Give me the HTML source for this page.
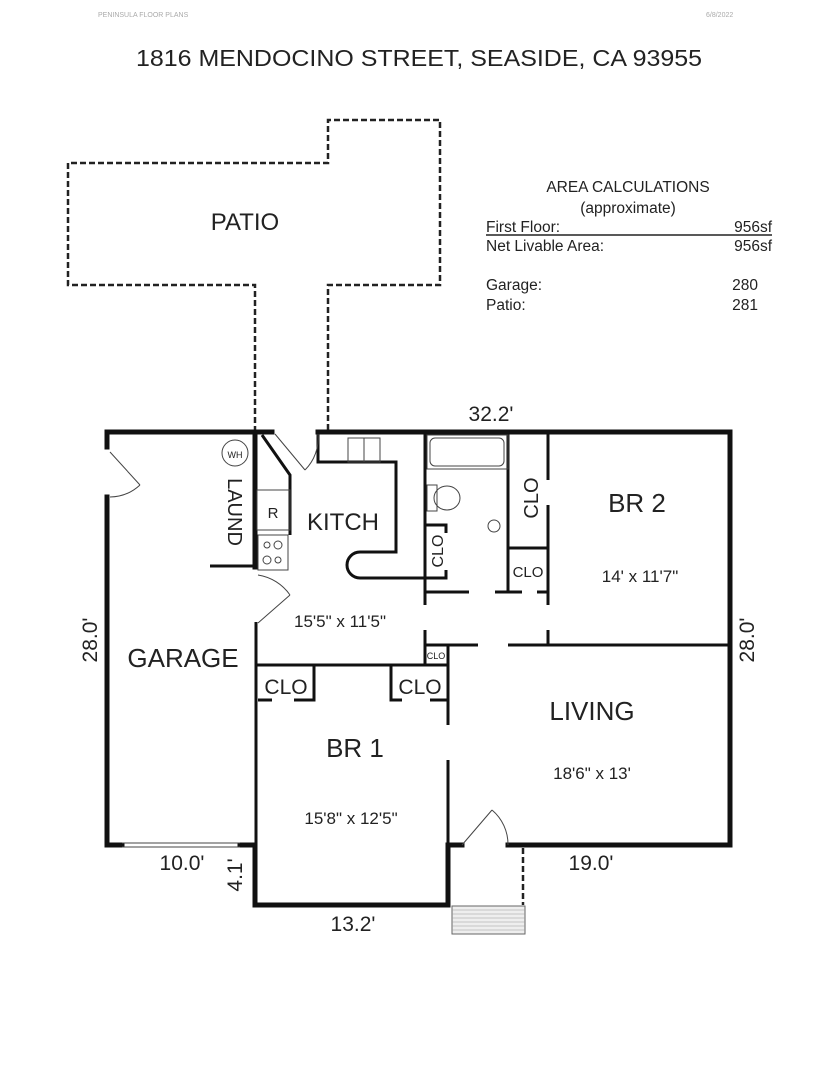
<!DOCTYPE html>
<html><head><meta charset="utf-8"><style>
html,body{margin:0;padding:0;background:#fff;}
svg{display:block;}
text{font-family:"Liberation Sans",Arial,sans-serif;fill:#222;}
</style></head><body>
<svg width="835" height="1080" viewBox="0 0 835 1080" xmlns="http://www.w3.org/2000/svg">
<text x="98" y="17" font-size="7" style="fill:#aaa">PENINSULA FLOOR PLANS</text>
<text x="706" y="17" font-size="7" style="fill:#aaa">6/8/2022</text>
<text x="136" y="66" font-size="23" textLength="566" lengthAdjust="spacingAndGlyphs">1816 MENDOCINO STREET, SEASIDE, CA  93955</text>

<!-- area calcs -->
<text x="628" y="192" font-size="15.5" text-anchor="middle">AREA CALCULATIONS</text>
<text x="628" y="213" font-size="15.5" text-anchor="middle">(approximate)</text>
<g font-size="15.5">
<text x="486" y="232">First  Floor:</text><text x="772" y="232" text-anchor="end">956sf</text>
<text x="486" y="251">Net Livable Area:</text><text x="772" y="251" text-anchor="end">956sf</text>
<text x="486" y="290">Garage:</text><text x="758" y="290" text-anchor="end">280</text>
<text x="486" y="310">Patio:</text><text x="758" y="310" text-anchor="end">281</text>
</g>
<line x1="486" y1="235" x2="772" y2="235" stroke="#222" stroke-width="1.5"/>

<!-- patio dashed -->
<g fill="none" stroke="#222" stroke-width="2.5" stroke-dasharray="6,3">
<path d="M255,432 V285 H68 V163 H328 V120 H440 V285 H328 V432"/>
<line x1="523" y1="848" x2="523" y2="905"/>
</g>
<text x="245" y="230" font-size="24" text-anchor="middle">PATIO</text>

<!-- thick walls -->
<g fill="none" stroke="#111" stroke-width="5" stroke-linecap="square">
<path d="M107,447 V432 H272"/>
<path d="M318,432 H730 V845 H508"/>
<path d="M107,497 V845 H122"/>
<path d="M240,845 H255 V905 H448 V845 H462"/>
<line x1="255" y1="432" x2="255" y2="567"/>
</g>
<!-- interior walls -->
<g fill="none" stroke="#111" stroke-width="3">
<line x1="210" y1="566" x2="255" y2="566"/>
<line x1="256" y1="622" x2="256" y2="845"/>
<line x1="255" y1="665" x2="448" y2="665"/>
<path d="M318,432 V462 H396 V552 H360 A13,13 0 0 0 360,578 H425"/>
<path d="M262,435 L290,475 V535"/>
<line x1="425" y1="432" x2="425" y2="605"/>
<line x1="425" y1="630" x2="425" y2="665"/>
<path d="M425,525 H446 V533 M446,570 V578 H425"/>
<line x1="508" y1="432" x2="508" y2="592"/>
<line x1="508" y1="548" x2="548" y2="548"/>
<line x1="548" y1="432" x2="548" y2="480"/>
<line x1="548" y1="505" x2="548" y2="605"/>
<line x1="548" y1="630" x2="548" y2="645"/>
<line x1="425" y1="592" x2="469" y2="592"/>
<line x1="495" y1="592" x2="522" y2="592"/>
<line x1="537" y1="592" x2="548" y2="592"/>
<line x1="425" y1="645" x2="478" y2="645"/>
<line x1="508" y1="645" x2="730" y2="645"/>
<line x1="448" y1="645" x2="448" y2="725"/>
<line x1="448" y1="760" x2="448" y2="845"/>
<path d="M258,700 H272 M294,700 H314 V665"/>
<path d="M391,665 V700 H402 M430,700 H448"/>
</g>
<rect x="425" y="645" width="23" height="20" fill="none" stroke="#111" stroke-width="1.5"/>

<!-- doors -->
<g fill="none" stroke="#444" stroke-width="1">
<path d="M110,452 L140,485 M140,485 A45,45 0 0 1 110,497"/>
<path d="M275,434 L305,470 M305,470 A45,45 0 0 0 318,434"/>
<path d="M258,575 A48,48 0 0 1 290,595 M290,595 L258,623"/>
<path d="M462,845 L492,810 M492,810 A45,45 0 0 1 508,845"/>
<line x1="122" y1="843" x2="240" y2="843"/><line x1="122" y1="847" x2="240" y2="847"/>
</g>

<!-- fixtures -->
<g fill="none" stroke="#444" stroke-width="1">
<circle cx="235" cy="453" r="13"/>
<rect x="257" y="490" width="33" height="40"/>
<rect x="258" y="535" width="30" height="35"/>
<circle cx="267" cy="545" r="3"/><circle cx="278" cy="545" r="4"/><circle cx="267" cy="560" r="4"/><circle cx="278" cy="560" r="3"/>
<rect x="348" y="438" width="32" height="24"/>
<line x1="364" y1="438" x2="364" y2="462"/>
<rect x="427" y="435" width="81" height="34"/>
<rect x="430" y="438" width="74" height="28" rx="5"/>
<rect x="427" y="485" width="10" height="26"/>
<ellipse cx="447" cy="498" rx="13" ry="12"/>
<circle cx="494" cy="526" r="6"/>
</g>
<text x="235" y="458" font-size="9" text-anchor="middle">WH</text>
<text x="273" y="518" font-size="15" text-anchor="middle">R</text>

<!-- stairs -->
<rect x="452" y="906" width="73" height="28" fill="#eee" stroke="#666" stroke-width="1"/>
<g stroke="#999" stroke-width="0.6">
<line x1="452" y1="910" x2="525" y2="910"/><line x1="452" y1="914" x2="525" y2="914"/><line x1="452" y1="918" x2="525" y2="918"/><line x1="452" y1="922" x2="525" y2="922"/><line x1="452" y1="926" x2="525" y2="926"/><line x1="452" y1="930" x2="525" y2="930"/>
</g>

<!-- labels -->
<text x="343" y="530" font-size="24" text-anchor="middle">KITCH</text>
<text x="228" y="512" font-size="20" text-anchor="middle" transform="rotate(90 228 512)">LAUND</text>
<text x="340" y="627" font-size="17" text-anchor="middle">15'5" x 11'5"</text>
<text x="183" y="667" font-size="26" text-anchor="middle">GARAGE</text>
<text x="286" y="694" font-size="21" text-anchor="middle">CLO</text>
<text x="420" y="694" font-size="21" text-anchor="middle">CLO</text>
<text x="436" y="659" font-size="9" text-anchor="middle">CLO</text>
<text x="443" y="551" font-size="16" text-anchor="middle" transform="rotate(-90 443 551)">CLO</text>
<text x="538" y="498" font-size="20" text-anchor="middle" transform="rotate(-90 538 498)">CLO</text>
<text x="528" y="577" font-size="15" text-anchor="middle">CLO</text>
<text x="637" y="512" font-size="26" text-anchor="middle">BR 2</text>
<text x="640" y="582" font-size="17" text-anchor="middle">14' x 11'7"</text>
<text x="592" y="720" font-size="26" text-anchor="middle">LIVING</text>
<text x="592" y="779" font-size="17" text-anchor="middle">18'6" x 13'</text>
<text x="355" y="757" font-size="26" text-anchor="middle">BR 1</text>
<text x="351" y="824" font-size="17" text-anchor="middle">15'8" x 12'5"</text>
<text x="491" y="421" font-size="21" text-anchor="middle">32.2'</text>
<text x="97" y="640" font-size="21" text-anchor="middle" transform="rotate(-90 97 640)">28.0'</text>
<text x="754" y="640" font-size="21" text-anchor="middle" transform="rotate(-90 754 640)">28.0'</text>
<text x="182" y="870" font-size="21" text-anchor="middle">10.0'</text>
<text x="591" y="870" font-size="21" text-anchor="middle">19.0'</text>
<text x="353" y="931" font-size="21" text-anchor="middle">13.2'</text>
<text x="242" y="875" font-size="21" text-anchor="middle" transform="rotate(-90 242 875)">4.1'</text>
</svg>
</body></html>
